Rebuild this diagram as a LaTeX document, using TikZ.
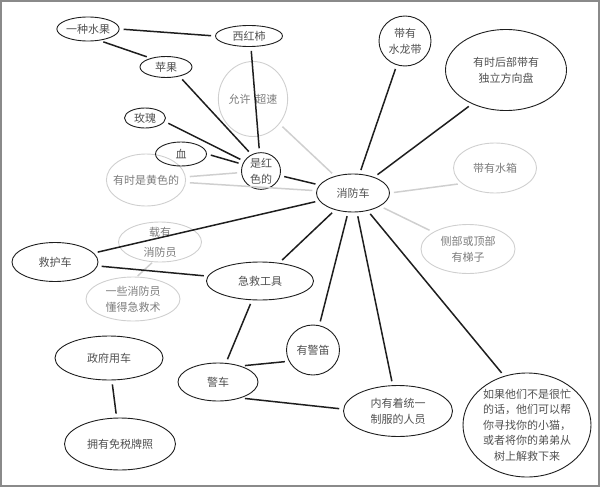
\documentclass[tikz,border=0pt]{standalone}
\usepackage{fontspec}
\setmainfont{Noto Sans CJK SC}
\usepackage{tikz}
\usetikzlibrary{shapes.geometric}

\definecolor{inkline}{HTML}{1E1E1E}
\definecolor{inktext}{HTML}{505050}
\definecolor{paleline}{HTML}{CFCFCF}
\definecolor{paletext}{HTML}{7C7C7C}
\definecolor{framegray}{HTML}{8A8A8A}

\begin{document}
\begin{tikzpicture}[x=1pt,y=-1pt,
                bubble/.style n args={2}{ellipse,draw=inkline,line width=0.9pt,text=inktext,inner sep=0pt,
                    minimum width=#1pt,minimum height=#2pt,align=center,font=\fontsize{11}{16}\selectfont},
                palebubble/.style n args={2}{bubble={#1}{#2},draw=paleline,text=paletext},
                link/.style={line width=1.5pt,draw=inkline,shorten <=4pt,shorten >=4pt},
                palelink/.style={link,draw=paleline}]
                \useasboundingbox (0,0) rectangle (602,487);
                \draw[framegray,line width=1.5pt] (1,1) rectangle (599,486);

                \node[palebubble={68}{75}] (speed) at (253,99) {允许\hspace{5pt}超速};
                \node[palebubble={79}{52},inner xsep=-5pt] (yellow) at (146,180) {有时是黄色的};
                \node[palebubble={83}{50}] (tank) at (495,168) {带有水箱};
                \node[palebubble={94}{49}] (ladder) at (468,249) {侧部或顶部\\有梯子};
                \node[palebubble={83}{40},inner ysep=-2pt,font=\fontsize{11}{20}\selectfont] (crew) at (160,242) {载有\\消防员};
                \node[palebubble={94}{44}] (aid) at (133,299) {一些消防员\\懂得急救术};

                \node[bubble={61}{24}] (fruit) at (88,29) {一种水果};
                \node[bubble={67}{21}] (tomato) at (249,36) {西红柿};
                \node[bubble={52}{21}] (apple) at (166,67) {苹果};
                \node[bubble={41}{20}] (rose) at (145,118) {玫瑰};
                \node[bubble={51}{24}] (blood) at (181,154) {血};
                \node[bubble={39}{36}] (red) at (261,171) {是红\\色的};
                \node[bubble={73}{38}] (engine) at (353,193) {消防车};
                \node[bubble={52}{50}] (hose) at (405,41) {带有\\水龙带};
                \node[bubble={121}{81}] (wheel) at (506,70) {有时后部带有\\独立方向盘};
                \node[bubble={86}{39}] (ambulance) at (55,262) {救护车};
                \node[bubble={107}{38}] (kit) at (260,281) {急救工具};
                \node[bubble={108}{44}] (gov) at (109,358) {政府用车};
                \node[bubble={111}{52}] (tax) at (120,444) {拥有免税牌照};
                \node[bubble={80}{38}] (police) at (218,382) {警车};
                \node[bubble={53}{50}] (siren) at (313,350) {有警笛};
                \node[bubble={109}{51}] (uniform) at (398,411) {内有着统一\\制服的人员};
                \node[bubble={128}{104},font=\fontsize{11}{15.5}\selectfont] (cat) at (527,425)
                    {如果他们不是很忙\\的话，他们可以帮\\你寻找你的小猫，\\或者将你的弟弟从\\树上解救下来};

                \draw[palelink] (speed) -- (engine);
                \draw[palelink] (yellow) -- (red);
                \draw[palelink] (yellow) -- (engine);
                \draw[palelink] (engine.east) -- (tank.205);
                \draw[palelink] (engine) -- (ladder);
                \draw[palelink,shorten <=1pt,shorten >=1pt] (crew.-110) -- (aid.80);

                \draw[link] (fruit.east) -- (tomato.west);
                \draw[link] (fruit.-45) -- (apple.150);
                \draw[link] (apple.-35) -- (red.120);
                \draw[link] (tomato.-80) -- (red);
                \draw[link] (rose.-10) -- (red.150);
                \draw[link] (blood.east) -- (red.160);
                \draw[link] (red) -- (engine);
                \draw[link] (engine) -- (hose);
                \draw[link] (engine) -- (wheel.225);
                \draw[link] (engine) -- (ambulance);
                \draw[link] (engine) -- (kit);
                \draw[link] (engine) -- (siren);
                \draw[link] (engine) -- (uniform);
                \draw[link] (engine) -- (cat.115);
                \draw[link] (ambulance) -- (kit);
                \draw[link] (kit) -- (police);
                \draw[link] (police.35) -- (siren.205);
                \draw[link] (police.-35) -- (uniform.178);
                \draw[link] (gov) -- (tax);
\end{tikzpicture}
\end{document}
